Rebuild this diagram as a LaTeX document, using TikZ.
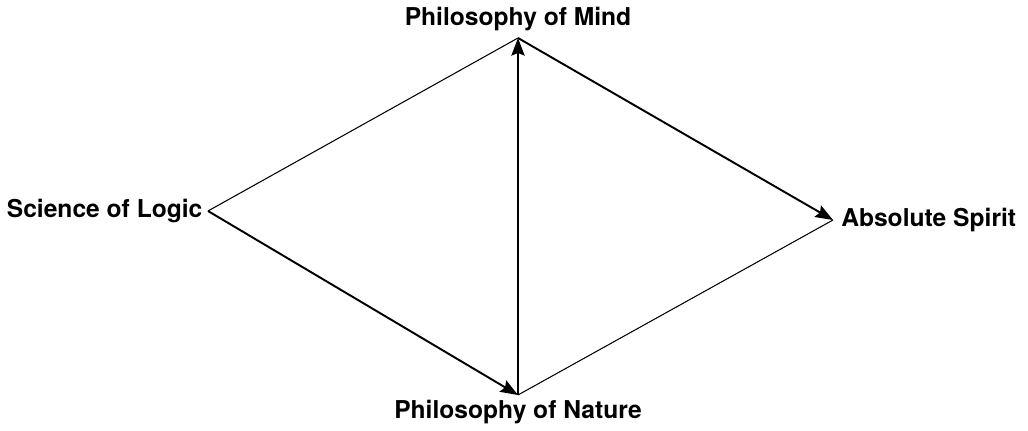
\documentclass[tikz,border=0pt]{standalone}
\usepackage{fontspec}
\setmainfont{TeX Gyre Heros}
\usetikzlibrary{arrows.meta}

\begin{document}
\begin{tikzpicture}[>={Stealth[length=10pt,width=7.5pt,inset=1.5pt]},
    label/.style={font=\fontsize{14}{16}\selectfont\bfseries, inner sep=3pt},
    thinline/.style={line width=0.6pt},
    arrowline/.style={->, line width=1.1pt}]
    \useasboundingbox (0,0) rectangle (20.56,8.6);

    \node[label, anchor=south, inner sep=3.6pt] (mind) at (10.36,7.84) {Philosophy of Mind};
    \node[label, anchor=east] (logic) at (4.16,4.38) {Science of Logic};
    \node[label, anchor=west, inner sep=4.5pt] (spirit) at (16.66,4.20) {Absolute Spirit};
    \node[label, anchor=north] (nature) at (10.36,0.70) {Philosophy of Nature};

    \draw[thinline] (logic.east) -- (mind.south);
    \draw[thinline] (nature.north) -- (spirit.west);

    \draw[arrowline] (logic.east) -- (nature.north);
    \draw[arrowline] (nature.north) -- (mind.south);
    \draw[arrowline] (mind.south) -- (spirit.west);
\end{tikzpicture}
\end{document}
